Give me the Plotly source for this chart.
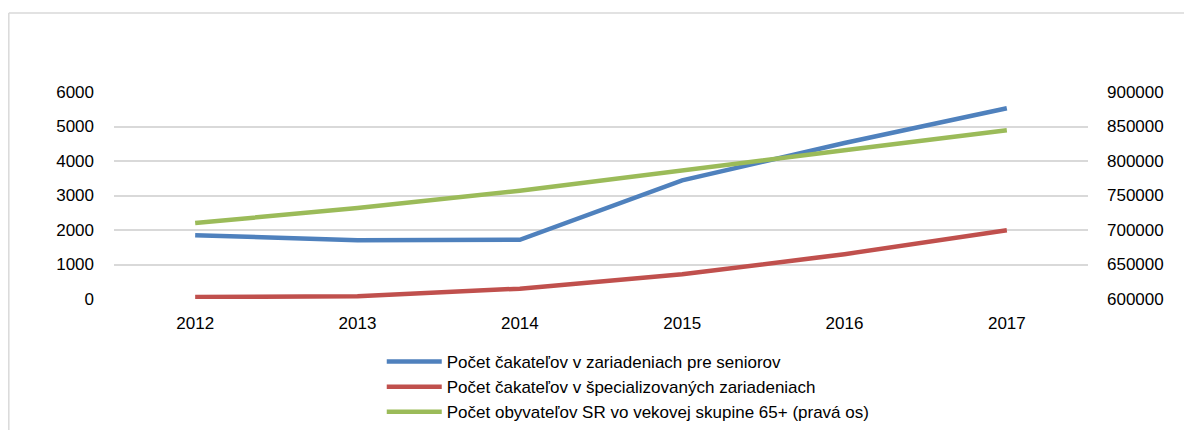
import plotly.graph_objects as go

years = ["2012", "2013", "2014", "2015", "2016", "2017"]
cakatelia_seniori = [1850, 1700, 1715, 3440, 4520, 5530]
cakatelia_specializovane = [55, 80, 300, 715, 1300, 1990]
obyvatelia_65 = [710000, 732000, 757000, 785500, 815500, 844500]

names = [
    "Počet čakateľov v zariadeniach pre seniorov",
    "Počet čakateľov v špecializovaných zariadeniach",
    "Počet obyvateľov SR vo vekovej skupine 65+ (pravá os)",
]
colors = ["#4F81BD", "#C0504D", "#9BBB59"]

FONT = "Liberation Sans, Arial, sans-serif"

fig = go.Figure()
fig.add_trace(go.Scatter(x=years, y=cakatelia_seniori, name=names[0], mode="lines",
                         line=dict(color=colors[0], width=4.5)))
fig.add_trace(go.Scatter(x=years, y=cakatelia_specializovane, name=names[1], mode="lines",
                         line=dict(color=colors[1], width=4.5)))
fig.add_trace(go.Scatter(x=years, y=obyvatelia_65, name=names[2], mode="lines", yaxis="y2",
                         line=dict(color=colors[2], width=4.5)))

fig.update_layout(
    width=1184, height=422,
    margin=dict(l=106, r=104, t=84, b=131),
    paper_bgcolor="white", plot_bgcolor="white",
    font=dict(family=FONT, size=17, color="#000000"),
    xaxis=dict(type="category", range=[-0.5, 5.5], showgrid=False, zeroline=False,
               showline=False, ticks="", ticklabelstandoff=12,
               tickfont=dict(size=17)),
    yaxis=dict(range=[0, 6000], dtick=1000, tick0=0, showgrid=True, gridcolor="#D9D9D9",
               gridwidth=1.5, zeroline=False, showline=False, ticks="",
               ticklabelstandoff=19, tickfont=dict(size=17)),
    yaxis2=dict(range=[600000, 900000], dtick=50000, tick0=600000, overlaying="y",
                side="right", showgrid=False, zeroline=False, showline=False, ticks="",
                tickformat="d", ticklabelstandoff=18, tickfont=dict(size=17)),
    showlegend=True,
    legend=dict(orientation="v", x=0.2749, xanchor="left", yref="container", y=0,
                yanchor="bottom", font=dict(size=17), itemwidth=55, tracegroupgap=0,
                bgcolor="rgba(0,0,0,0)"),
    shapes=[
        dict(type="line", xref="paper", yref="paper", x0=-0.108, x1=1.3,
             y0=1.3816, y1=1.3816, line=dict(color="#D9D9D9", width=1.5)),
        dict(type="line", xref="paper", yref="paper", x0=-0.108, x1=-0.108,
             y0=1.3816, y1=-0.8, line=dict(color="#D9D9D9", width=1.5)),
    ],
)

fig.write_html("out.html")
